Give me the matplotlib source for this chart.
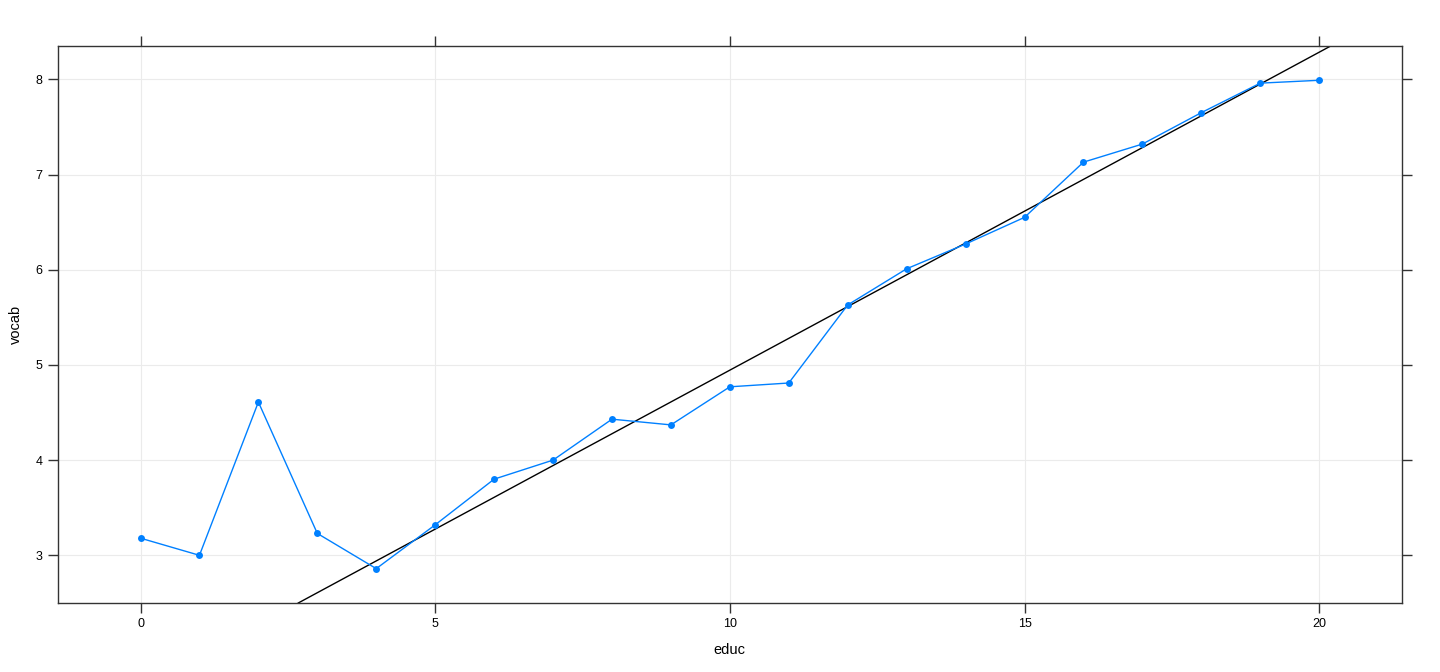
import matplotlib
matplotlib.use("Agg")
import matplotlib.pyplot as plt
import numpy as np

# mean vocab score by years of education
educ = [0, 1, 2, 3, 4, 5, 6, 7, 8, 9, 10, 11, 12, 13, 14, 15, 16, 17, 18, 19, 20]
vocab = [3.18, 3.00, 4.61, 3.23, 2.86, 3.32, 3.80, 4.00, 4.43, 4.37, 4.77,
         4.81, 5.63, 6.01, 6.27, 6.55, 7.13, 7.32, 7.65, 7.96, 7.99]

# least squares line
fit_intercept = 1.605
fit_slope = 0.334

plt.rcParams['font.family'] = ['Liberation Sans', 'DejaVu Sans']

fig = plt.figure(figsize=(14.4, 6.72), dpi=100)
ax = fig.add_axes([58 / 1440, 1 - 603 / 672, (1401.7 - 58) / 1440, (603 - 46.3) / 672])

ax.grid(True, color='#ebebeb', linewidth=0.8)
ax.set_axisbelow(True)

ax.plot(educ, vocab, color='#0080ff', linewidth=1.0, marker='o', markersize=5,
        markeredgewidth=0, zorder=3)
ax.axline((0, fit_intercept), slope=fit_slope, color='black', linewidth=1.0, zorder=2)

ax.set_xlim(-1.4, 21.4)
ax.set_ylim(2.499, 8.347)
ax.set_xticks([0, 5, 10, 15, 20])
ax.set_yticks([3, 4, 5, 6, 7, 8])

ax.tick_params(direction='out', length=7, width=1, color='#333333', labelsize=9,
               top=True, right=True, labeltop=False, labelright=False, pad=4)
for s in ax.spines.values():
    s.set_color('#333333')
    s.set_linewidth(1)

ax.set_xlabel('educ', fontsize=10.5, labelpad=9)
ax.set_ylabel('vocab', fontsize=10.5, labelpad=9)

fig.savefig('out.png', dpi=100)
